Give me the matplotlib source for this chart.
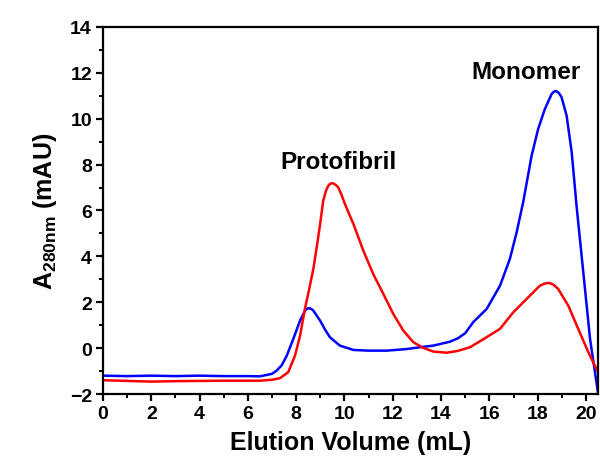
import numpy as np
import matplotlib
matplotlib.use("Agg")
import matplotlib.pyplot as plt
from matplotlib.ticker import MultipleLocator

plt.rcParams['font.family'] = ['Liberation Sans', 'DejaVu Sans']
plt.rcParams['font.weight'] = 'bold'
plt.rcParams['mathtext.fontset'] = 'custom'
plt.rcParams['mathtext.rm'] = 'Liberation Sans:bold'
plt.rcParams['mathtext.bf'] = 'Liberation Sans:bold'

# elution traces (mL, mAU)
red_x = [0, 1, 2, 3, 4, 5, 6, 6.5, 7, 7.33, 7.67, 7.95, 8.16, 8.36, 8.54, 8.71, 8.85, 8.99,
         9.12, 9.24, 9.33, 9.42, 9.51, 9.62, 9.74, 9.87, 10.02, 10.37, 10.78, 11.19, 11.61,
         12.02, 12.44, 12.85, 13.26, 13.68, 14.23, 14.7, 15.2, 15.8, 16.44, 16.99, 17.54,
         18.09, 18.3, 18.48, 18.65, 18.85, 19.27, 19.68, 20.1, 20.5]
red_y = [-1.40, -1.43, -1.46, -1.44, -1.43, -1.42, -1.42, -1.42, -1.38, -1.31, -1.05, -0.33,
         0.54, 1.71, 2.58, 3.45, 4.4, 5.4, 6.43, 6.88, 7.08, 7.17, 7.19, 7.13, 7.01, 6.7, 6.28,
         5.41, 4.25, 3.23, 2.36, 1.49, 0.76, 0.26, 0.01, -0.15, -0.2, -0.12, 0.04, 0.42, 0.84,
         1.56, 2.14, 2.72, 2.82, 2.84, 2.77, 2.58, 1.85, 0.84, -0.18, -1.05]

blue_x = [0, 1, 2, 3, 4, 5, 6, 6.5, 7.0, 7.19, 7.4, 7.61, 7.88, 8.16, 8.35, 8.42, 8.5, 8.6,
          8.7, 8.99, 9.2, 9.4, 9.81, 10.37, 11.0, 11.75, 12.58, 13.13, 13.68, 14.37, 14.7,
          15.0, 15.33, 15.89, 16.44, 16.85, 17.13, 17.4, 17.75, 18.02, 18.3, 18.58, 18.67,
          18.76, 18.88, 18.99, 19.2, 19.41, 19.61, 19.89, 20.17, 20.5]
blue_y = [-1.2, -1.22, -1.2, -1.22, -1.2, -1.22, -1.22, -1.23, -1.12, -0.98, -0.75, -0.33,
          0.40, 1.2, 1.6, 1.7, 1.74, 1.72, 1.65, 1.2, 0.8, 0.47, 0.11, -0.08, -0.11, -0.11,
          -0.04, 0.04, 0.11, 0.28, 0.43, 0.65, 1.13, 1.71, 2.72, 3.89, 5.05, 6.36, 8.39, 9.55,
          10.43, 11.08, 11.18, 11.21, 11.12, 10.94, 10.13, 8.54, 6.21, 3.31, 0.40, -1.95]

fig = plt.figure(figsize=(6, 4.64), dpi=100)
ax = fig.add_axes([0.1717, 0.1487, 0.825, 0.791])

ax.plot(blue_x, blue_y, color='#0000FF', lw=1.8, solid_joinstyle='round')
ax.plot(red_x, red_y, color='#FF0000', lw=1.8, solid_joinstyle='round')

ax.set_xlim(0, 20.5)
ax.set_ylim(-2, 14)
ax.xaxis.set_major_locator(MultipleLocator(2))
ax.xaxis.set_minor_locator(MultipleLocator(1))
ax.yaxis.set_major_locator(MultipleLocator(2))
ax.yaxis.set_minor_locator(MultipleLocator(1))
ax.tick_params(which='major', direction='out', length=5, width=1.6, labelsize=14, pad=3)
ax.tick_params(which='minor', direction='out', length=3, width=1.4)
for s in ax.spines.values():
    s.set_linewidth(1.6)

ax.set_xlabel('Elution Volume (mL)', fontsize=18, fontweight='bold', labelpad=6)
ax.set_ylabel(r'A$_{\mathrm{280nm}}$ (mAU)', fontsize=18, fontweight='bold', labelpad=8)

ax.text(9.77, 8.12, 'Protofibril', fontsize=17.5, fontweight='bold', ha='center', va='center')
ax.text(17.52, 12.04, 'Monomer', fontsize=17.5, fontweight='bold', ha='center', va='center')

fig.savefig('out.png', dpi=100)
